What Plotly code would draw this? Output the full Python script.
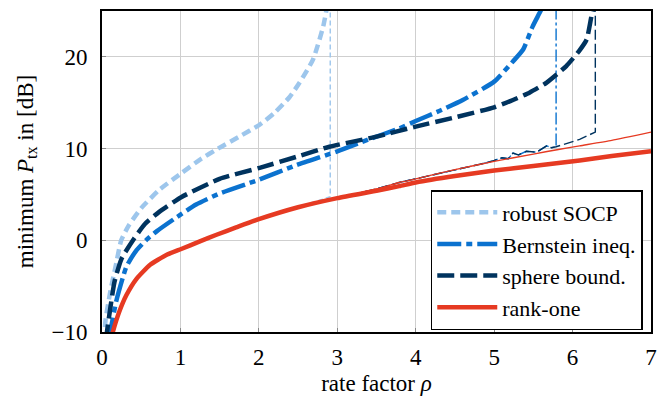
import plotly.graph_objects as go

# ---------------- data ----------------
# thick curves
socp_x = [0.03, 0.045, 0.11, 0.17, 0.245, 0.34, 0.5, 0.73, 1.01, 1.25, 1.5, 1.75, 2.01, 2.2, 2.39, 2.52, 2.69, 2.82, 2.87]
socp_y = [-11, -8.7, -5.4, -3.0, 0.0, 1.6, 3.5, 5.5, 7.3, 8.8, 10.1, 11.3, 12.6, 13.9, 15.6, 17.2, 19.7, 23.3, 25.5]

bern_x = [0.09, 0.11, 0.18, 0.31, 0.43, 0.56, 0.7, 0.95, 1.2, 1.5, 2.0, 2.48, 3.0, 3.4, 3.79, 4.0, 4.3, 4.6, 5.0, 5.24, 5.37, 5.49, 5.58, 5.62]
bern_y = [-11, -9.8, -6.7, -2.9, -1.2, 0.0, 1.0, 2.5, 3.9, 5.1, 6.6, 8.2, 9.7, 11.0, 12.2, 13.0, 14.1, 15.3, 17.3, 19.5, 20.8, 23.3, 24.8, 25.5]

sph_x = [0.05, 0.066, 0.16, 0.25, 0.41, 0.55, 0.73, 1.01, 1.5, 2.01, 2.48, 2.9, 3.5, 4.0, 4.5, 5.0, 5.24, 5.45, 5.67, 5.92, 6.08, 6.18, 6.24, 6.27]
sph_y = [-11, -9.8, -4.5, -2.0, 0.2, 1.8, 3.1, 4.7, 6.7, 7.9, 9.1, 10.2, 11.3, 12.4, 13.4, 14.5, 15.3, 16.1, 17.2, 19.0, 20.6, 21.9, 24.4, 25.5]

r1_x = [0.12, 0.138, 0.22, 0.31, 0.44, 0.61, 0.82, 1.01, 1.24, 1.46, 1.71, 2.0, 2.5, 3.0, 3.5, 3.79, 4.0, 4.5, 5.0, 5.5, 6.09, 6.5, 7.0]
r1_y = [-10.6, -10.0, -7.8, -6.0, -4.2, -2.7, -1.6, -0.95, -0.15, 0.6, 1.4, 2.3, 3.6, 4.6, 5.4, 5.9, 6.3, 7.0, 7.6, 8.1, 8.7, 9.2, 9.7]

# thin curves
r1t_x = [0.12, 0.138, 0.22, 0.31, 0.44, 0.61, 0.82, 1.01, 1.24, 1.46, 1.71, 2.0, 2.5, 3.0, 3.5, 3.79, 4.0, 4.5, 5.0, 5.5, 5.82, 6.09, 6.5, 7.0]
r1t_y = [-10.6, -10.0, -7.8, -6.0, -4.2, -2.7, -1.6, -0.95, -0.15, 0.6, 1.4, 2.3, 3.6, 4.6, 5.6, 6.3, 6.7, 7.7, 8.6, 9.4, 9.9, 10.3, 10.9, 11.8]

socpt_x = [0.12, 0.138, 0.22, 0.31, 0.44, 0.61, 0.82, 1.01, 1.24, 1.46, 1.71, 2.0, 2.5, 2.91, 2.91]
socpt_y = [-10.6, -10.0, -7.8, -6.0, -4.2, -2.7, -1.6, -0.95, -0.15, 0.6, 1.4, 2.3, 3.6, 4.75, 26]

berint_x = [3.0, 3.5, 3.79, 4.0, 4.5, 4.9, 5.0, 5.1, 5.18, 5.24, 5.31, 5.41, 5.54, 5.67, 5.73, 5.79, 5.79]
berint_y = [4.6, 5.6, 6.3, 6.7, 7.7, 8.45, 8.7, 9.0, 8.9, 9.5, 9.3, 9.7, 9.6, 10.3, 10.1, 10.2, 26]

spht_x = [3.0, 3.5, 3.79, 4.0, 4.5, 4.9, 5.0, 5.1, 5.18, 5.24, 5.31, 5.41, 5.54, 5.67, 5.73, 5.79, 6.09, 6.29, 6.29]
spht_y = [4.6, 5.6, 6.3, 6.7, 7.7, 8.45, 8.7, 9.0, 8.9, 9.5, 9.3, 9.7, 9.6, 10.3, 10.1, 10.2, 11.0, 11.8, 26]

x_ticks = [0, 1, 2, 3, 4, 5, 6, 7]
y_ticks = [-10, 0, 10, 20]

names = ["robust SOCP", "Bernstein ineq.", "sphere bound.", "rank-one"]

# ---------------- styles ----------------
C_SOCP = "#9DC6EC"
C_BERN = "#0B72CF"
C_SPH = "#00335E"
C_R1 = "#E63A22"
FONT = "Liberation Serif"

fig = go.Figure()

# thin lines (no legend)
fig.add_trace(go.Scatter(x=socpt_x, y=socpt_y, mode="lines", showlegend=False,
                         line=dict(color=C_SOCP, width=1.4, dash="5px,3px")))
fig.add_trace(go.Scatter(x=berint_x, y=berint_y, mode="lines", showlegend=False,
                         line=dict(color=C_BERN, width=1.4, dash="12px,3px,3px,3px")))
fig.add_trace(go.Scatter(x=spht_x, y=spht_y, mode="lines", showlegend=False,
                         line=dict(color=C_SPH, width=1.4, dash="10px,4px")))
fig.add_trace(go.Scatter(x=r1t_x, y=r1t_y, mode="lines", showlegend=False,
                         line=dict(color=C_R1, width=1.4, shape="spline", smoothing=0.5)))

# thick lines
fig.add_trace(go.Scatter(x=socp_x, y=socp_y, mode="lines", name=names[0], legendgroup="a",
                         line=dict(color=C_SOCP, width=4.5, dash="9px,5px", shape="spline", smoothing=0.5)))
fig.add_trace(go.Scatter(x=bern_x, y=bern_y, mode="lines", name=names[1], legendgroup="b",
                         line=dict(color=C_BERN, width=4.5, dash="24px,5px,6px,5px", shape="spline", smoothing=0.5)))
fig.add_trace(go.Scatter(x=sph_x, y=sph_y, mode="lines", name=names[2], legendgroup="c",
                         line=dict(color=C_SPH, width=4.5, dash="17px,6px", shape="spline", smoothing=0.5)))
fig.add_trace(go.Scatter(x=r1_x, y=r1_y, mode="lines", name=names[3], legendgroup="d",
                         line=dict(color=C_R1, width=4.5, shape="spline", smoothing=0.5)))

axis_common = dict(
    showgrid=True, gridcolor="#CFCFCF", gridwidth=1,
    showline=True, linecolor="black", linewidth=1.6, mirror=True,
    ticks="inside", ticklen=4, tickcolor="#888888", tickwidth=1,
    zeroline=False, ticklabeloverflow="allow",
    tickfont=dict(family=FONT, size=23, color="black"),
)

fig.update_xaxes(range=[0, 7], tickvals=x_ticks, ticktext=[str(v) for v in x_ticks],
                 title=dict(text="rate factor <i>ρ</i>", font=dict(family=FONT, size=23, color="black"), standoff=5),
                 ticklabelstandoff=4, **axis_common)
fig.update_yaxes(range=[-10, 25], tickvals=y_ticks,
                 ticktext=["\u2212" + str(-v) if v < 0 else str(v) for v in y_ticks],
                 title=dict(text="minimum <i>P</i><sub>tx</sub> in [dB]", font=dict(family=FONT, size=23, color="black"), standoff=12),
                 ticklabelstandoff=8, **axis_common)

fig.update_layout(
    width=657, height=396,
    margin=dict(l=102, r=6, t=11, b=64, autoexpand=False),
    paper_bgcolor="white", plot_bgcolor="white",
    font=dict(family=FONT, size=22, color="black"),
    legend=dict(x=0.985, y=0.006, xanchor="right", yanchor="bottom",
                bgcolor="white", bordercolor="black", borderwidth=1.5,
                font=dict(family=FONT, size=22, color="black"),
                tracegroupgap=1, itemwidth=60, traceorder="normal"),
)

# remove the default page margin so the figure fills the 657x396 window
fig.write_html("out.html", config={"displayModeBar": False},
               post_script="document.body.style.margin='0';document.body.style.overflow='hidden';")
